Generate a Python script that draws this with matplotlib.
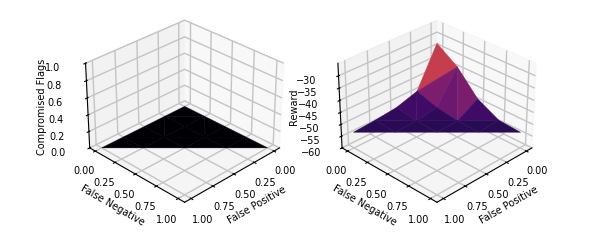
import matplotlib
matplotlib.use('Agg')
import matplotlib.pyplot as plt
import numpy as np

# grid points, false positive + false negative <= 1
fp = [0, 0, 0, 0, 0, .25, .25, .25, .25, .5, .5, .5, .75, .75, 1]
fn = [0, .25, .5, .75, 1, 0, .25, .5, .75, 0, .25, .5, 0, .25, 0]

flags = [0, 0, 0, 0, 0, 0, 0, 0, 0, 0, 0, 0, 0, 0, 0]
reward = [-32.5, -38.5, -48, -52.7, -53.3, -49, -51.7, -53, -53.3, -51.7, -53, -53.3, -52.7, -53.3, -53.3]
reward_ticks = [-60, -55, -50, -45, -40, -35, -30]

fp = np.array(fp)
fn = np.array(fn)

fig = plt.figure(figsize=(5.98, 2.44), dpi=100)

ax = fig.add_subplot(1, 2, 1, projection='3d')
surf = ax.plot_trisurf(fp, fn, np.array(flags, dtype=float), cmap='inferno', linewidth=0.3)
surf.set_edgecolor('face')
ax.set_zlim(0, 1)
ax.set_zlabel('Compromised Flags', fontsize=7, labelpad=-2.4, rotation=90)

ax2 = fig.add_subplot(1, 2, 2, projection='3d')
surf2 = ax2.plot_trisurf(fp, fn, np.array(reward), cmap='inferno', vmin=-58, vmax=-24, linewidth=0.3)
surf2.set_edgecolor('face')
ax2.set_zlim(-60, -25)
ax2.set_zticks(reward_ticks)
ax2.set_zlabel('Reward', fontsize=7, labelpad=-2.4, rotation=90)

for a in [ax, ax2]:
    a.view_init(30, 45)
    a.set_box_aspect((4, 4, 2.85))
    a.zaxis.set_rotate_label(False)
    a.set_xlabel('False Positive', fontsize=7, labelpad=-3)
    a.set_ylabel('False Negative', fontsize=7, labelpad=-3)
    a.set_xticks([0, .25, .5, .75, 1])
    a.set_yticks([0, .25, .5, .75, 1])
    a.tick_params(labelsize=7, pad=1, length=2)
    a.tick_params(axis='z', pad=5)
    for axis in [a.xaxis, a.yaxis, a.zaxis]:
        axis._axinfo['grid']['linewidth'] = 1.0
        axis._axinfo['grid']['color'] = '#c4c4c4'

ax.set_position([0.115, 0.12, 0.378, 0.864])
ax2.set_position([0.537, 0.12, 0.378, 0.864])
fig.savefig('out.png', dpi=100)
